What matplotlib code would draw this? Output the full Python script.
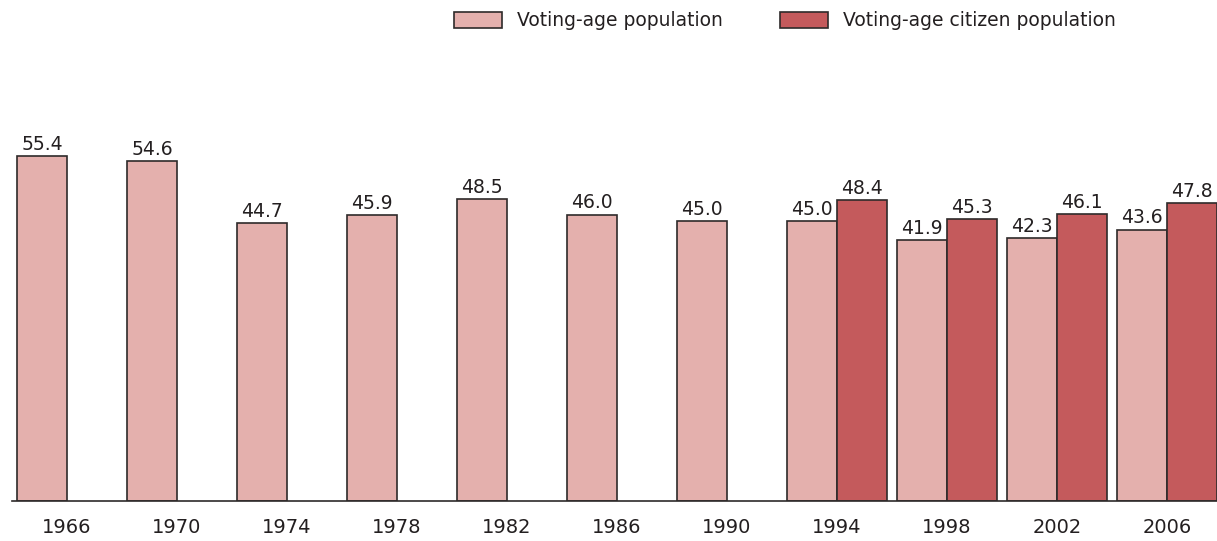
import numpy as np
import matplotlib
matplotlib.use('Agg')
import matplotlib.pyplot as plt
from matplotlib.patches import Patch

# Turnout data (percent)
years = ['1966', '1970', '1974', '1978', '1982', '1986', '1990', '1994', '1998', '2002', '2006']
voting_age = [55.4, 54.6, 44.7, 45.9, 48.5, 46.0, 45.0, 45.0, 41.9, 42.3, 43.6]
citizen_years = ['1994', '1998', '2002', '2006']
citizen = [48.4, 45.3, 46.1, 47.8]

light = '#E4B0AD'
dark = '#C45A5C'
edge = '#2e2a2a'
text_color = '#231f20'

fig = plt.figure(figsize=(12.17, 5.41), dpi=100)
ax = fig.add_axes([12 / 1217, 40 / 541, 1205 / 1217, 373.5 / 541])

x = np.arange(len(years))
w = 50 / 110

bars1 = ax.bar(x - w / 2, voting_age, width=w, color=light, edgecolor=edge, linewidth=1.2)
cx = np.array([years.index(y) for y in citizen_years])
bars2 = ax.bar(cx + w / 2, citizen, width=w, color=dark, edgecolor=edge, linewidth=1.2)

for bars, vals in [(bars1, voting_age), (bars2, citizen)]:
    for b, v in zip(bars, vals):
        ax.text(b.get_x() + b.get_width() / 2, v + 0.35, f'{v:.1f}',
                ha='center', va='bottom', fontsize=13.5, color=text_color)

ax.set_xlim(-0.5, len(years) - 1 + w)
ax.set_ylim(0, 60)
ax.set_xticks(x)
ax.set_xticklabels(years, fontsize=14, color=text_color)
ax.tick_params(axis='x', length=0, pad=12)
ax.set_yticks([])
for s in ['top', 'right', 'left']:
    ax.spines[s].set_visible(False)
ax.spines['bottom'].set_color(edge)
ax.spines['bottom'].set_linewidth(1.2)

handles = [Patch(facecolor=light, edgecolor=edge, linewidth=1.2, label='Voting-age population'),
           Patch(facecolor=dark, edgecolor=edge, linewidth=1.2, label='Voting-age citizen population')]
leg = fig.legend(handles=handles, loc='center', bbox_to_anchor=(785 / 1217, 1 - 21 / 541),
                 ncol=2, frameon=False, fontsize=13.5, handlelength=2.56, handleheight=0.96,
                 handletextpad=0.8, columnspacing=3.04)
for t in leg.get_texts():
    t.set_color(text_color)

fig.savefig('out.png', dpi=100)
